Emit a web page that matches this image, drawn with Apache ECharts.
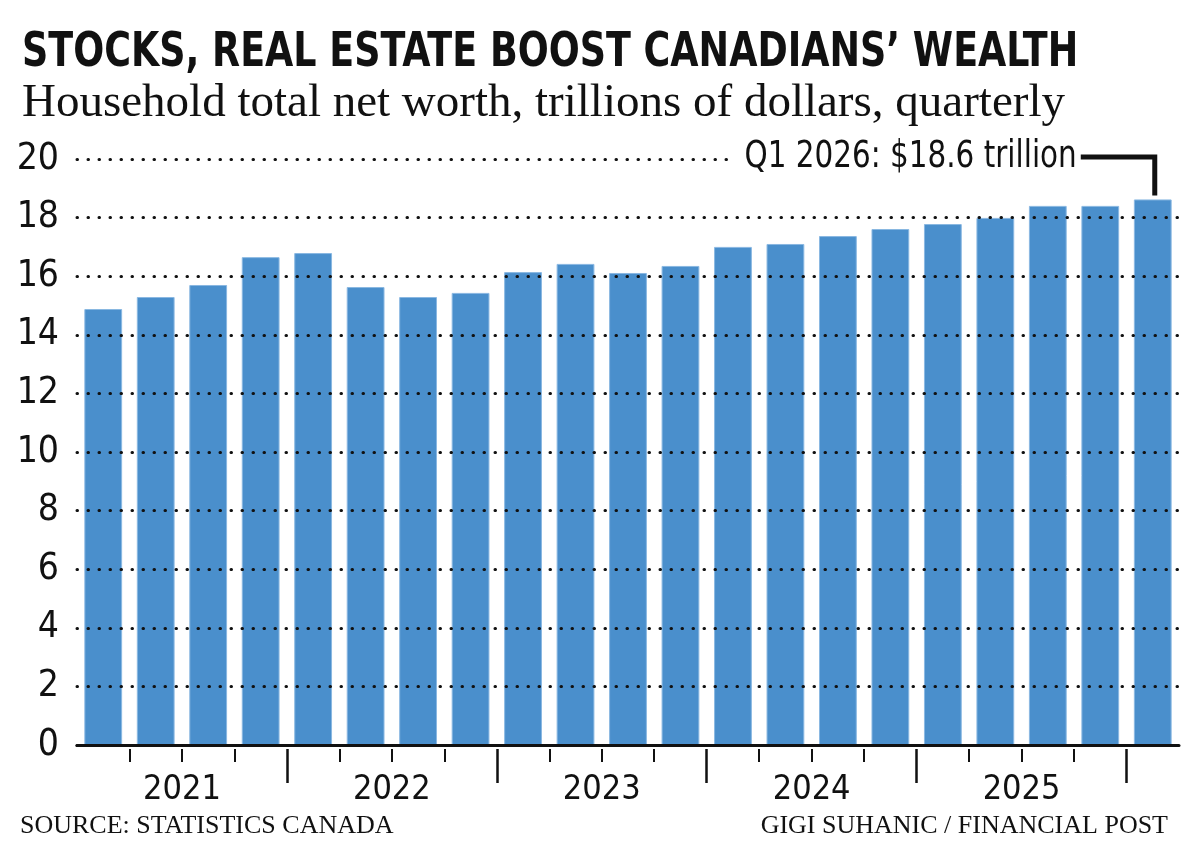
<!DOCTYPE html>
<html>
<head>
<meta charset="utf-8">
<title>Stocks, real estate boost Canadians' wealth</title>
<script src="https://cdn.jsdelivr.net/npm/echarts@6/dist/echarts.min.js"></script>
<style>
  html, body { margin: 0; background: #fff; }
  #chart { width: 1200px; height: 861px; }
</style>
</head>
<body>
<div id="chart"></div>
<script>
// household net worth, trillions of dollars
const quarters = [
    "2021 Q1", "2021 Q2", "2021 Q3", "2021 Q4",
    "2022 Q1", "2022 Q2", "2022 Q3", "2022 Q4",
    "2023 Q1", "2023 Q2", "2023 Q3", "2023 Q4",
    "2024 Q1", "2024 Q2", "2024 Q3", "2024 Q4",
    "2025 Q1", "2025 Q2", "2025 Q3", "2025 Q4",
    "2026 Q1",
];
const netWorth = [
    14.88, 15.29, 15.70, 16.65,
    16.79, 15.63, 15.29, 15.43,
    16.14, 16.42, 16.11, 16.35,
    17.00, 17.10, 17.37, 17.61,
    17.78, 17.99, 18.40, 18.40,
    18.62,
];
const yearLabels = ["2021", "2022", "2023", "2024", "2025"];
const yMin = 0;
const yMax = 20;
const yStep = 2;
const calloutText = "Q1 2026: $18.6 trillion";

const narrow = "'Liberation Sans Narrow', 'DejaVu Sans Condensed', sans-serif";
const serif = "'Liberation Serif', 'DejaVu Serif', serif";
const BLUE = "#4a8fcc";

// tick positions sit on the boundaries between quarters
var minorTicks = [];
var majorTicks = [];
for (var i = 1; i < quarters.length; i++) {
    if (quarters[i].endsWith("Q1")) majorTicks.push(i - 0.5);
    else minorTicks.push(i - 0.5);
}
// year label in the middle of its four quarters
var yearPos = {};
yearLabels.forEach(function (y) {
    yearPos[quarters.indexOf(y + " Q1") + 1.5] = y;
});

var chart = echarts.init(document.getElementById("chart"));

var boundaryAxis = {
    type: "value",
    min: -0.5,
    max: quarters.length - 0.5,
    position: "bottom",
    offset: 4,
    axisLine: { show: false },
    splitLine: { show: false },
    axisLabel: { show: false },
};

var option = {
    animation: false,
    grid: { left: 77, right: 21, top: 159, bottom: 116 },
    xAxis: [
        {
            type: "category",
            data: quarters,
            boundaryGap: true,
            z: 5,
            axisLine: { lineStyle: { color: "#111", width: 3 } },
            axisTick: { show: false },
            axisLabel: { show: false },
        },
        Object.assign({}, boundaryAxis, {
            axisTick: {
                customValues: minorTicks,
                length: 13,
                lineStyle: { color: "#111", width: 2 },
            },
        }),
        Object.assign({}, boundaryAxis, {
            axisTick: {
                customValues: majorTicks,
                length: 34,
                lineStyle: { color: "#111", width: 2.5 },
            },
            axisLabel: {
                show: true,
                customValues: Object.keys(yearPos).map(Number),
                formatter: function (v) { return yearPos[v] || ""; },
                margin: 24,
                color: "#111",
                fontFamily: narrow,
                fontSize: 34,
            },
        }),
    ],
    yAxis: {
        type: "value",
        min: yMin,
        max: yMax,
        interval: yStep,
        z: 5,
        axisLine: { show: false },
        axisTick: { show: false },
        axisLabel: {
            color: "#111",
            fontFamily: narrow,
            fontSize: 37,
            margin: 18,
        },
        splitLine: {
            lineStyle: { color: "#111", width: 3, type: [0.5, 10.5], cap: "round" },
        },
    },
    series: [
        {
            type: "bar",
            data: netWorth,
            barWidth: "72%",
            itemStyle: { color: BLUE, borderColor: "#8ab8e2", borderWidth: 1 },
        },
    ],
};
chart.setOption(option);

// title, credits and the callout on the latest quarter
var last = quarters.length - 1;
var px = chart.convertToPixel({ xAxisIndex: 0 }, last);
var barTop = chart.convertToPixel({ yAxisIndex: 0 }, netWorth[last]);
var lineY = chart.convertToPixel({ yAxisIndex: 0 }, yMax) - 2;
var bracketX = px + 2;
var bracketStart = bracketX - 74;

chart.setOption({
    graphic: [
        {
            type: "text", x: 22, y: 54, z: 10, scaleX: 0.845,
            style: {
                text: "STOCKS, REAL ESTATE BOOST CANADIANS\u2019 WEALTH",
                font: "bold 48px " + narrow, fill: "#111", verticalAlign: "middle",
            },
        },
        {
            type: "text", left: 22, top: 80, z: 10,
            style: {
                text: "Household total net worth, trillions of dollars, quarterly",
                font: "47px " + serif, fill: "#111",
            },
        },
        {
            type: "text", left: 20, top: 813, z: 10,
            style: { text: "SOURCE: STATISTICS CANADA", font: "26px " + serif, fill: "#111" },
        },
        {
            type: "text", right: 32, top: 813, z: 10,
            style: { text: "GIGI SUHANIC / FINANCIAL POST", font: "26px " + serif, fill: "#111" },
        },
        {
            type: "rect", z: 10, silent: true,
            shape: { x: 728, y: lineY - 12, width: 1200 - 728, height: 22 },
            style: { fill: "#fff" },
        },
        {
            type: "text", z: 11, scaleX: 0.885,
            x: bracketStart - 4, y: lineY,
            style: {
                text: calloutText, font: "37px " + narrow, fill: "#111",
                align: "right", verticalAlign: "middle",
            },
        },
        {
            type: "polyline", z: 11,
            shape: { points: [[bracketStart, lineY], [bracketX, lineY], [bracketX, barTop - 4]] },
            style: { stroke: "#111", lineWidth: 5, fill: null, lineJoin: "miter" },
        },
    ],
});
</script>
</body>
</html>
